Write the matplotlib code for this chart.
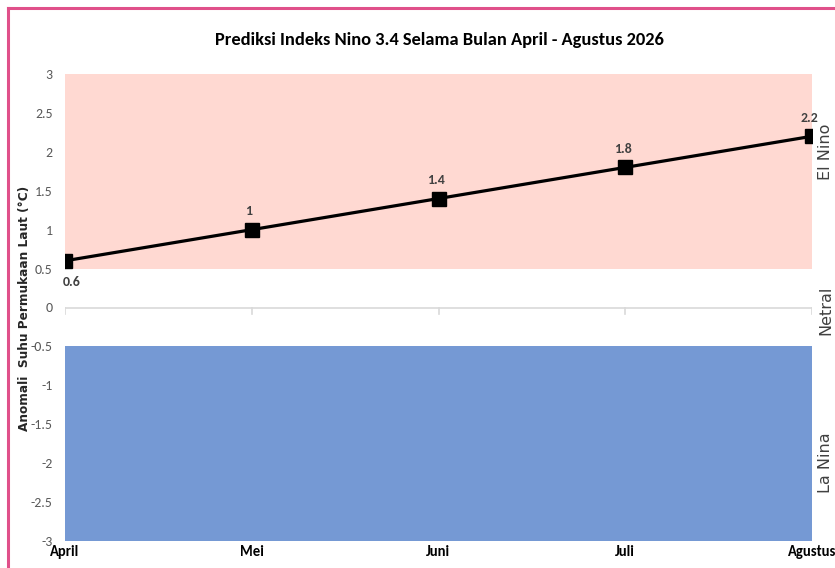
import matplotlib
matplotlib.use("Agg")
import matplotlib.pyplot as plt
from matplotlib.lines import Line2D
from matplotlib import font_manager as fm

months = ["April", "Mei", "Juni", "Juli", "Agustus"]
nino34 = [0.6, 1.0, 1.4, 1.8, 2.2]
elnino_band = [0.5, 3.0]
lanina_band = [-3.0, -0.5]
yticks = [3, 2.5, 2, 1.5, 1, 0.5, 0, -0.5, -1, -1.5, -2, -2.5, -3]
ytick_labels = ["3", "2.5", "2", "1.5", "1", "0.5", "0", "-0.5", "-1", "-1.5", "-2", "-2.5", "-3"]
zones = [("El Nino", 2.0), ("Netral", -0.03), ("La Nina", -2.0)]

names = {f.name for f in fm.fontManager.ttflist}
cond = [n for n in ["Carlito", "Archivo Narrow", "Barlow Semi Condensed"] if n in names][:1] + ["DejaVu Sans"]

fig = plt.figure(figsize=(8.35, 5.68), dpi=100)
ax = fig.add_axes([65/835, 1-541/568, (812-65)/835, (541-74)/568])

x = list(range(len(months)))
ax.fill_between([x[0], x[-1]], elnino_band[0], elnino_band[1], color="#FFD9D2", lw=0, zorder=1)
ax.fill_between([x[0], x[-1]], lanina_band[0], lanina_band[1], color="#7599D4", lw=0, zorder=1)
ax.axhline(0, color="#D9D9D9", lw=1.2, zorder=2)
for xi in x:
    ax.plot([xi, xi], [0, -0.08], color="#D9D9D9", lw=1.2, zorder=2)

ax.plot(x, nino34, color="black", lw=2.3, marker="s", markersize=9.5, zorder=5,
        solid_capstyle="round")

for i, v in enumerate(nino34):
    if i == 0:
        off = (5, -15)
    else:
        off = (-2, 13.5)
    ax.annotate(f"{v:g}", (x[i], v), xytext=off, textcoords="offset points",
                ha="center", va="center", fontsize=10, color="#404040",
                fontweight="bold", family=cond)

ax.set_xlim(x[0], x[-1])
ax.set_ylim(-3, 3)
ax.set_yticks(yticks)
ax.set_yticklabels(ytick_labels, family=cond, fontsize=10, color="#595959")
ax.tick_params(axis="y", length=0, pad=9)
ax.set_xticks([])
for s in ax.spines.values():
    s.set_visible(False)

for xi, m in zip(x, months):
    ax.text(xi, -3.05, m, ha="center", va="top", fontsize=10.5, fontweight="bold",
            family=cond, color="black", transform=ax.transData, clip_on=False)

for label, yv in zones:
    ax.text(1.0 + 14/747, yv, label, rotation=90, ha="center", va="center",
            fontsize=11.5, color="#404040", transform=ax.get_yaxis_transform(),
            clip_on=False, family=["DejaVu Sans"])

fig.text(25/835, 1-308/568, "Anomali  Suhu Permukaan Laut (°C)", rotation=90,
         ha="center", va="center", fontsize=8.7, fontweight="bold", color="#262626")

fig.text(439/835, 1-40/568, "Prediksi Indeks Nino 3.4 Selama Bulan April - Agustus 2026",
         ha="center", va="center", fontsize=13.2, fontweight="bold", family=cond, color="black")

pink = "#E0508A"
fig.add_artist(Line2D([8/835, 8/835], [0, 1-8/568], color=pink, lw=2.2, transform=fig.transFigure))
fig.add_artist(Line2D([8/835, 1], [1-8/568, 1-8/568], color=pink, lw=2.2, transform=fig.transFigure))

fig.savefig("out.png", dpi=100)
